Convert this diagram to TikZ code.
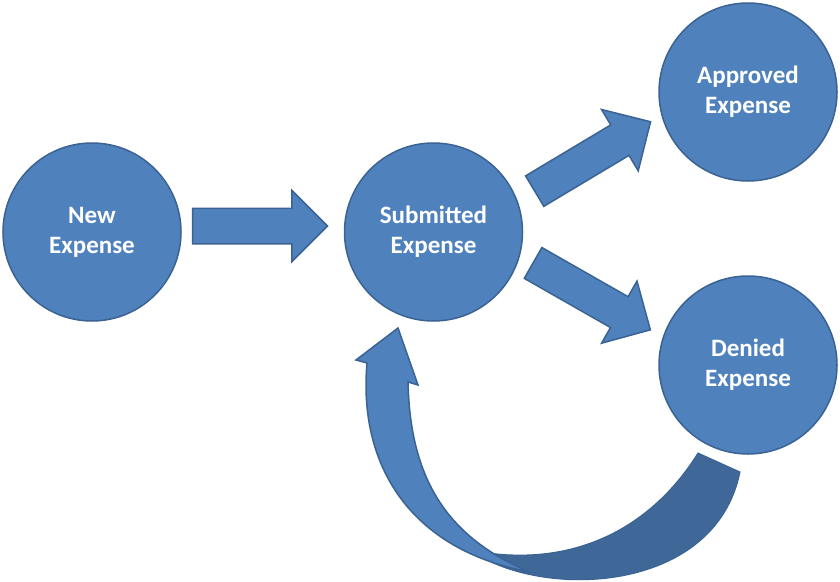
\documentclass[tikz,border=0pt]{standalone}
\usepackage{fontspec}
\setmainfont{Carlito}
\usetikzlibrary{positioning, shapes.arrows}
\definecolor{fillblue}{HTML}{4F81BD}
\definecolor{edgeblue}{HTML}{3A6393}
\definecolor{backblue}{HTML}{3F6899}
\tikzset{state/.style={circle,draw=edgeblue,fill=fillblue,line width=1.5pt,minimum size=178pt,inner sep=0pt,align=center,text=white,font=\fontsize{25}{30}\selectfont\bfseries},blockarrow/.style={single arrow,draw=edgeblue,fill=fillblue,line width=1.5pt,minimum height=135pt,single arrow head extend=18pt,single arrow tip angle=90,inner xsep=0pt,inner ysep=17pt}}

\begin{document}
\begin{tikzpicture}[x=1pt,y=-1pt]
\useasboundingbox[fill=white] (0,0) rectangle (840,581);
\node[state] (new) at (92,232) {New\\Expense};
\node[state, right=162pt of new] (sub) {Submitted\\Expense};
\node[state] (app) at (748,92) {Approved\\Expense};
\node[state] (den) at (748,365) {Denied\\Expense};
\node[blockarrow, right=10pt of new, yshift=6pt] (tosub) {};
\node[blockarrow, rotate=30.9] (toapp) at (585,161) {};
\node[blockarrow, rotate=-29.7] (toden) at (584,292) {};
% loop back from denied
\fill[backblue, draw=edgeblue, line width=1pt] (698,453) .. controls (650,530) and (570,570) .. (470,550)
  .. controls (540,600) and (715,595) .. (740,472) -- cycle;
\fill[fillblue, draw=edgeblue, line width=1.5pt] (398,328) -- (418,385) -- (408,382)
  .. controls (410,470) and (440,535) .. (530,572)
  .. controls (410,550) and (358,465) .. (367,363) -- (356,360) -- cycle;
\end{tikzpicture}
\end{document}
